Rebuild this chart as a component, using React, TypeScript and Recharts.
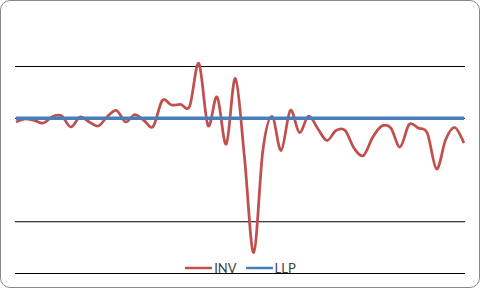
import React from "react";
import { LineChart, Line, XAxis, YAxis, CartesianGrid } from "recharts";

// Series values (INV); LLP is flat at zero.
const invValues: number[] = [
  -0.072, -0.011, -0.04, -0.092, 0.034, 0.043, -0.169, 0.024, -0.072, -0.15,
  0.034, 0.15, -0.072, 0.072, -0.043, -0.159, 0.343, 0.256, 0.266, 0.237,
  1.058, -0.14, 0.411, -0.498, 0.768, -0.778, -2.594, -0.623, 0.034, -0.623,
  0.15, -0.275, 0.043, -0.198, -0.43, -0.237, -0.237, -0.585, -0.72, -0.372,
  -0.15, -0.188, -0.556, -0.121, -0.188, -0.295, -0.981, -0.411, -0.179, -0.478,
];
const llpValues: number[] = invValues.map(() => 0);
const categories: number[] = invValues.map((_, i) => i + 1);
const gridTicks: number[] = [-3, -2, 0, 1];
const seriesNames = ["INV", "LLP"];

const data = categories.map((c, i) => ({ period: c, INV: invValues[i], LLP: llpValues[i] }));

const RED = "#C0504D";
const BLUE = "#4A7EBB";

// Catmull-Rom style smoothing (similar to Excel's smoothed line)
function smoothCurve(context: any) {
  let pts: [number, number][] = [];
  return {
    areaStart() {},
    areaEnd() {},
    lineStart() {
      pts = [];
    },
    point(x: number, y: number) {
      pts.push([+x, +y]);
    },
    lineEnd() {
      const n = pts.length;
      if (!n) return;
      context.moveTo(pts[0][0], pts[0][1]);
      for (let i = 0; i < n - 1; i++) {
        const p0 = pts[Math.max(i - 1, 0)];
        const p1 = pts[i];
        const p2 = pts[i + 1];
        const p3 = pts[Math.min(i + 2, n - 1)];
        const c1x = p1[0] + (p2[0] - p0[0]) / 6;
        const c1y = p1[1] + (p2[1] - p0[1]) / 6;
        const c2x = p2[0] - (p3[0] - p1[0]) / 6;
        const c2y = p2[1] - (p3[1] - p1[1]) / 6;
        context.bezierCurveTo(c1x, c1y, c2x, c2y, p2[0], p2[1]);
      }
    },
  };
}

const LegendBox = () => (
  <div
    style={{
      position: "absolute",
      left: 0,
      top: 259,
      width: 481,
      display: "flex",
      justifyContent: "center",
      alignItems: "center",
      height: 18,
      fontFamily: "Lato, 'Liberation Sans', sans-serif",
      fontSize: 13,
      color: "#404040",
    }}
  >
    {seriesNames.map((name, i) => (
      <div key={name} style={{ display: "flex", alignItems: "center", marginLeft: i ? 9 : 0 }}>
        <svg width={27} height={4} style={{ display: "block" }}>
          <line x1={0} y1={2} x2={27} y2={2} stroke={i ? BLUE : RED} strokeWidth={2.5} />
        </svg>
        <span style={{ marginLeft: 2, lineHeight: "18px" }}>{name}</span>
      </div>
    ))}
  </div>
);

export default function App() {
  return (
    <div style={{ position: "absolute", left: 0, top: 0, width: 481, height: 290, background: "#fff" }}>
      <div
        style={{
          position: "absolute",
          left: 0,
          top: 0,
          width: 480,
          height: 288,
          border: "1px solid #888",
          borderRadius: 10,
          boxSizing: "border-box",
        }}
      />
      <div style={{ position: "absolute", left: 0, top: 0 }}>
        <LineChart width={481} height={290} data={data} margin={{ top: 14.75, right: 16, bottom: 16.5, left: 15 }}>
          <CartesianGrid vertical={false} horizontalValues={gridTicks} stroke="#000" strokeWidth={1.1} />
          <XAxis dataKey="period" hide padding={{ left: 1, right: 1 }} />
          <YAxis hide domain={[-3, 2]} ticks={gridTicks} />
          <Line
            dataKey="INV"
            type={smoothCurve as any}
            stroke={RED}
            strokeWidth={2.75}
            dot={false}
            activeDot={false}
            isAnimationActive={false}
          />
          <Line
            dataKey="LLP"
            type="linear"
            stroke={BLUE}
            strokeWidth={3.5}
            dot={false}
            activeDot={false}
            isAnimationActive={false}
          />
        </LineChart>
      </div>
      <LegendBox />
    </div>
  );
}
